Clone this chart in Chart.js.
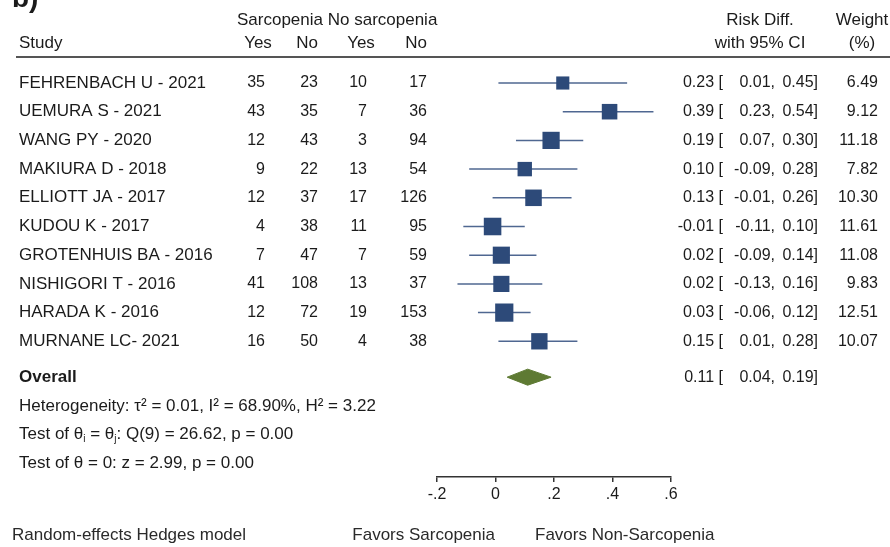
<!DOCTYPE html>
<html>
<head>
<meta charset="utf-8">
<script src="https://cdn.jsdelivr.net/npm/chart.js@4"></script>
<style>
  html, body { margin: 0; padding: 0; background: #fff; }
  #wrap { width: 890px; height: 547px; position: relative; }
</style>
</head>
<body>
<div id="wrap"><canvas id="forest"></canvas></div>
<script>
// ---- data ----
const studies = ["FEHRENBACH U - 2021", "UEMURA S - 2021", "WANG PY - 2020", "MAKIURA D - 2018",
  "ELLIOTT JA - 2017", "KUDOU K - 2017", "GROTENHUIS BA - 2016", "NISHIGORI T - 2016",
  "HARADA K - 2016", "MURNANE LC- 2021"];
const sarcYes = [35, 43, 12, 9, 12, 4, 7, 41, 12, 16];
const sarcNo = [23, 35, 43, 22, 37, 38, 47, 108, 72, 50];
const noSarcYes = [10, 7, 3, 13, 17, 11, 7, 13, 19, 4];
const noSarcNo = [17, 36, 94, 54, 126, 95, 59, 37, 153, 38];
const riskDiff = [0.23, 0.39, 0.19, 0.10, 0.13, -0.01, 0.02, 0.02, 0.03, 0.15];
const ciLow = [0.01, 0.23, 0.07, -0.09, -0.01, -0.11, -0.09, -0.13, -0.06, 0.01];
const ciHigh = [0.45, 0.54, 0.30, 0.28, 0.26, 0.10, 0.14, 0.16, 0.12, 0.28];
const weights = [6.49, 9.12, 11.18, 7.82, 10.30, 11.61, 11.08, 9.83, 12.51, 10.07];
const overall = { est: 0.11, low: 0.04, high: 0.19 };
const xTicks = [-0.2, 0, 0.2, 0.4, 0.6];
const xTickLabels = ["-.2", "0", ".2", ".4", ".6"];

const FONT = '"Liberation Sans", Arial, Helvetica, sans-serif';
const TXT_FONT = `17px ${FONT}`;   // words
const NUM_FONT = `16px ${FONT}`;   // numbers
const TXT = "#1b1b1b";
const MARK = "#2d4a79";
const CI_COL = "#4f6791";
const DIAM = "#5e7a33";
const OVERALL_ROW = 10.25;

const f2 = v => v.toFixed(2);

// text with optional subscripts: parts = [[text, sub?], ...]
function drawParts(ctx, parts, x, y) {
  parts.forEach(([t, sub]) => {
    ctx.font = sub ? `10px ${FONT}` : TXT_FONT;
    ctx.fillText(t, x, sub ? y + 5 : y);
    x += ctx.measureText(t).width;
  });
}

// ---- table text, header, footer ----
const tablePlugin = {
  id: "forestTable",
  afterDraw(chart) {
    const ctx = chart.ctx;
    const ys = chart.scales.y;
    ctx.save();
    ctx.fillStyle = TXT;
    ctx.textBaseline = "middle";

    // panel letter (cut at top edge)
    ctx.font = `bold 28px ${FONT}`;
    ctx.textAlign = "left";
    ctx.fillText("b)", 12, -1);

    // header
    ctx.font = TXT_FONT;
    ctx.fillText("Sarcopenia No sarcopenia", 237, 20);
    ctx.fillText("Study", 19, 43);
    ctx.textAlign = "center";
    ctx.fillText("Yes", 258, 43);
    ctx.fillText("No", 307, 43);
    ctx.fillText("Yes", 361, 43);
    ctx.fillText("No", 416, 43);
    ctx.fillText("Risk Diff.", 760, 20);
    ctx.fillText("with 95% CI", 760, 43);
    ctx.fillText("Weight", 862, 20);
    ctx.fillText("(%)", 862, 43);

    ctx.strokeStyle = "#555";
    ctx.lineWidth = 2;
    ctx.beginPath();
    ctx.moveTo(16, 57);
    ctx.lineTo(890, 57);
    ctx.stroke();

    // study rows
    studies.forEach((name, i) => {
      const y = ys.getPixelForValue(i);
      ctx.textAlign = "left";
      ctx.font = TXT_FONT;
      ctx.fillText(name, 19, y);
      ctx.font = NUM_FONT;
      ctx.textAlign = "right";
      ctx.fillText(String(sarcYes[i]), 265, y);
      ctx.fillText(String(sarcNo[i]), 318, y);
      ctx.fillText(String(noSarcYes[i]), 367, y);
      ctx.fillText(String(noSarcNo[i]), 427, y);
      ctx.fillText(f2(riskDiff[i]) + " [", 723, y);
      ctx.fillText(f2(ciLow[i]) + ",", 775, y);
      ctx.fillText(f2(ciHigh[i]) + "]", 818, y);
      ctx.fillText(f2(weights[i]), 878, y);
    });

    // overall row
    let y = ys.getPixelForValue(OVERALL_ROW);
    ctx.textAlign = "left";
    ctx.font = `bold 17px ${FONT}`;
    ctx.fillText("Overall", 19, y);
    ctx.font = NUM_FONT;
    ctx.textAlign = "right";
    ctx.fillText(f2(overall.est) + " [", 723, y);
    ctx.fillText(f2(overall.low) + ",", 775, y);
    ctx.fillText(f2(overall.high) + "]", 818, y);

    // heterogeneity stats
    ctx.textAlign = "left";
    ctx.font = TXT_FONT;
    ctx.fillText("Heterogeneity: \u03C4\u00B2 = 0.01, I\u00B2 = 68.90%, H\u00B2 = 3.22", 19, ys.getPixelForValue(OVERALL_ROW + 1));
    drawParts(ctx, [["Test of \u03B8"], ["i", true], [" = \u03B8"], ["j", true], [": Q(9) = 26.62, p = 0.00"]],
      19, ys.getPixelForValue(OVERALL_ROW + 2));
    ctx.font = TXT_FONT;
    ctx.fillText("Test of \u03B8 = 0: z = 2.99, p = 0.00", 19, ys.getPixelForValue(OVERALL_ROW + 3));

    // footer
    ctx.fillStyle = "#2a2a2a";
    ctx.fillText("Random-effects Hedges model", 12, 535);
    ctx.textAlign = "right";
    ctx.fillText("Favors Sarcopenia", 495, 535);
    ctx.textAlign = "left";
    ctx.fillText("Favors Non-Sarcopenia", 535, 535);
    ctx.restore();
  }
};

// ---- datasets ----
const ciSets = studies.map((s, i) => ({
  type: "scatter",
  data: [{ x: ciLow[i], y: i }, { x: ciHigh[i], y: i }],
  showLine: true,
  borderColor: CI_COL,
  borderWidth: 1.5,
  pointRadius: 0,
  order: 2
}));

const markerSet = {
  type: "scatter",
  data: riskDiff.map((v, i) => ({ x: v, y: i })),
  pointStyle: "rect",
  // square side ~ sqrt(weight), rect radius -> side = 1.414 * r
  pointRadius: weights.map(w => 5.15 * Math.sqrt(w) / Math.SQRT2),
  backgroundColor: MARK,
  borderColor: MARK,
  borderWidth: 0,
  order: 1
};

const diamondSet = {
  type: "scatter",
  data: [
    { x: overall.low, y: OVERALL_ROW },
    { x: overall.est, y: OVERALL_ROW - 0.28 },
    { x: overall.high, y: OVERALL_ROW },
    { x: overall.est, y: OVERALL_ROW + 0.28 },
    { x: overall.low, y: OVERALL_ROW }
  ],
  showLine: true,
  fill: "shape",
  backgroundColor: DIAM,
  borderColor: DIAM,
  borderWidth: 1,
  pointRadius: 0,
  tension: 0,
  order: 1
};

new Chart(document.getElementById("forest"), {
  type: "scatter",
  data: { datasets: [...ciSets, markerSet, diamondSet] },
  options: {
    responsive: true,
    maintainAspectRatio: false,
    animation: false,
    layout: { padding: { left: 437, right: 219, top: 70, bottom: 0 } },
    plugins: { legend: { display: false }, tooltip: { enabled: false } },
    scales: {
      x: {
        type: "linear",
        min: -0.2,
        max: 0.6,
        afterBuildTicks: scale => { scale.ticks = xTicks.map(v => ({ value: v })); },
        afterFit: scale => { scale.height = 70; },
        ticks: {
          callback: (v, idx) => xTickLabels[idx],
          color: TXT,
          font: { family: FONT, size: 16 },
          padding: 3,
          maxRotation: 0
        },
        grid: { drawOnChartArea: false, drawTicks: true, tickLength: 5, tickColor: "#333", lineWidth: 1.5 },
        border: { display: true, color: "#333", width: 1.5 }
      },
      y: {
        type: "linear",
        reverse: true,
        min: -0.453,
        max: 13.728,
        display: false
      }
    }
  },
  plugins: [tablePlugin]
});
</script>
</body>
</html>
